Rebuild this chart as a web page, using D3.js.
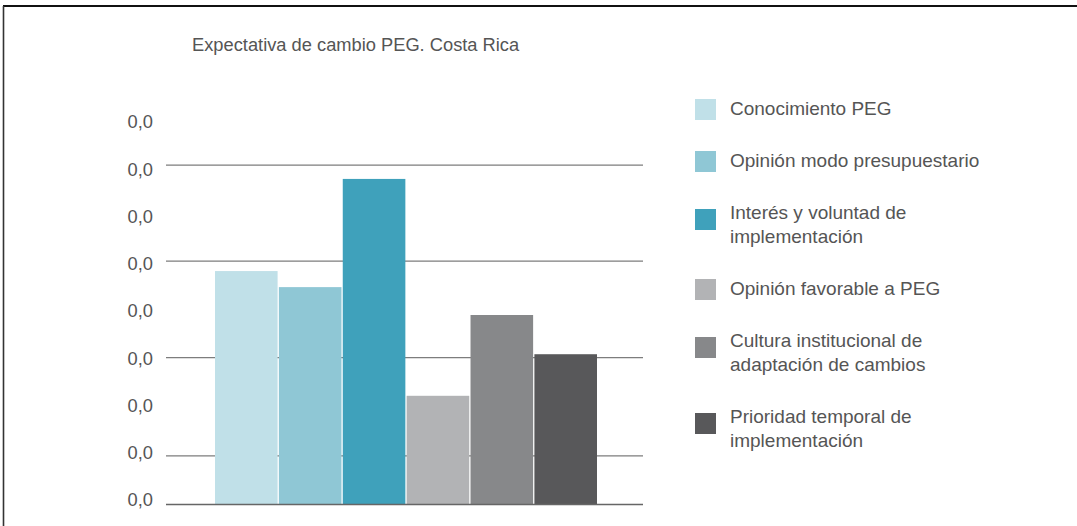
<!DOCTYPE html>
<html>
<head>
<meta charset="utf-8">
<script src="https://cdn.jsdelivr.net/npm/d3@7"></script>
<style>
  body { margin: 0; background: #fff; }
  svg { display: block; font-family: "Liberation Sans", Arial, Helvetica, sans-serif; }
</style>
</head>
<body>
<svg id="chart"></svg>
<script>
// data
var categories = [
    "Conocimiento PEG",
    "Opinión modo presupuestario",
    "Interés y voluntad de implementación",
    "Opinión favorable a PEG",
    "Cultura institucional de adaptación de cambios",
    "Prioridad temporal de implementación"
];
var legendLines = [
    ["Conocimiento PEG"],
    ["Opinión modo presupuestario"],
    ["Interés y voluntad de", "implementación"],
    ["Opinión favorable a PEG"],
    ["Cultura institucional de", "adaptación de cambios"],
    ["Prioridad temporal de", "implementación"]
];
var values = [4.93, 4.59, 6.88, 2.29, 4.0, 3.17];
var colors = ["#c0e0e8", "#8fc7d5", "#3fa1bb", "#b2b3b5", "#87888a", "#58585a"];
var tickValues = [0, 1, 2, 3, 4, 5, 6, 7, 8];
var tickLabels = ["0,0", "0,0", "0,0", "0,0", "0,0", "0,0", "0,0", "0,0", "0,0"];
var gridValues = [1.02, 3.1, 5.14, 7.17];
var title = "Expectativa de cambio PEG. Costa Rica";

function drawChart() {
    var width = 1077, height = 526;

    var svg = d3.select("#chart")
        .attr("width", width)
        .attr("height", height);

    // frame: top and left edges only
    svg.append("line")
        .attr("x1", 3).attr("x2", width)
        .attr("y1", 6).attr("y2", 6)
        .style("stroke", "#111").style("stroke-width", 1.8);
    svg.append("line")
        .attr("x1", 3.5).attr("x2", 3.5)
        .attr("y1", 6).attr("y2", height)
        .style("stroke", "#333").style("stroke-width", 1.6);

    svg.append("text")
        .attr("x", 192)
        .attr("y", 51)
        .style("font-size", "18.3px")
        .style("fill", "#555")
        .text(title);

    var xScale = d3.scaleBand()
        .domain(categories)
        .range([215, 597])
        .paddingInner(0.02);

    var yScale = d3.scaleLinear()
        .domain([0, 8])
        .range([504, 126]);

    // gridlines
    svg.selectAll(".grid")
        .data(gridValues)
        .enter().append("line")
        .attr("class", "grid")
        .attr("x1", 166).attr("x2", 643)
        .attr("y1", function(d) { return yScale(d); })
        .attr("y2", function(d) { return yScale(d); })
        .style("stroke", "#7d7d7d")
        .style("stroke-width", 1.3);

    // tick labels
    var yAxis = d3.axisLeft(yScale)
        .tickValues(tickValues)
        .tickSize(0)
        .tickPadding(0)
        .tickFormat(function(d, i) { return tickLabels[i]; });

    var axis = svg.append("g")
        .attr("class", "y axis")
        .attr("transform", "translate(153,-4)")
        .call(yAxis);
    axis.select(".domain").remove();
    axis.selectAll("text")
        .style("font-size", "18.3px")
        .style("font-family", "'Liberation Sans', Arial, sans-serif")
        .style("fill", "#555");

    // bars
    svg.selectAll(".bar")
        .data(values)
        .enter().append("rect")
        .attr("class", "bar")
        .attr("x", function(d, i) { return xScale(categories[i]); })
        .attr("width", xScale.bandwidth())
        .attr("y", function(d) { return yScale(d); })
        .attr("height", function(d) { return yScale(0) - yScale(d); })
        .style("fill", function(d, i) { return colors[i]; });

    // baseline
    svg.append("line")
        .attr("x1", 166).attr("x2", 643)
        .attr("y1", yScale(0) + 0.5).attr("y2", yScale(0) + 0.5)
        .style("stroke", "#666")
        .style("stroke-width", 1.3);

    // legend
    var lineH = 24, y0 = 108;
    var starts = [];
    legendLines.forEach(function(lines, i) {
        starts.push(y0);
        y0 += 52 + (lines.length - 1) * lineH;
    });

    var legend = svg.selectAll(".legend")
        .data(legendLines)
        .enter().append("g")
        .attr("class", "legend")
        .attr("transform", function(d, i) { return "translate(0," + starts[i] + ")"; });

    legend.append("rect")
        .attr("x", 695)
        .attr("y", function(d) { return -9 + (d.length - 1) * 6; })
        .attr("width", 21)
        .attr("height", 21)
        .style("fill", function(d, i) { return colors[i]; });

    legend.append("text")
        .attr("x", 730)
        .attr("y", 0)
        .style("font-size", "19px")
        .style("fill", "#555")
        .selectAll("tspan")
        .data(function(d) { return d; })
        .enter().append("tspan")
        .attr("x", 730)
        .attr("y", function(d, i) { return i * lineH; })
        .attr("dy", ".35em")
        .text(function(d) { return d; });
}

drawChart();
</script>
</body>
</html>
